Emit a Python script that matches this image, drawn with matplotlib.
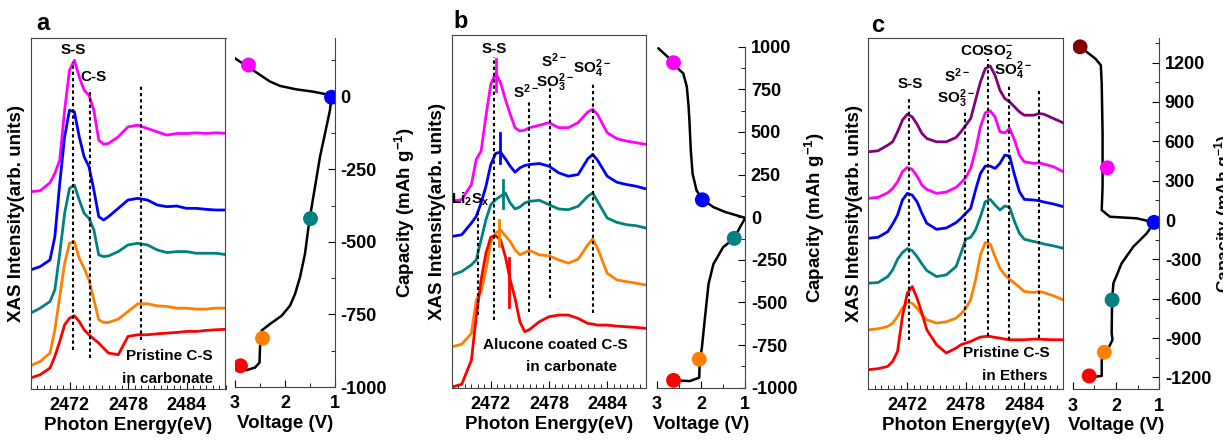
import matplotlib
matplotlib.use("Agg")
import matplotlib.pyplot as plt
from matplotlib.ticker import MultipleLocator

plt.rcParams['font.family'] = ['Liberation Sans', 'DejaVu Sans']
plt.rcParams['font.weight'] = 'bold'
plt.rcParams['axes.labelweight'] = 'bold'
plt.rcParams['axes.unicode_minus'] = False
plt.rcParams['mathtext.fontset'] = 'custom'
plt.rcParams['mathtext.rm'] = 'Liberation Sans:bold'
plt.rcParams['mathtext.it'] = 'Liberation Sans:bold'
plt.rcParams['mathtext.default'] = 'rm'

# ---- panel a : XAS spectra (offset intensities)
energy_a = [2468, 2469, 2470, 2470.5, 2471, 2471.5, 2472, 2472.5, 2473, 2473.5, 2474, 2474.5, 2475,
            2475.5, 2476, 2477, 2478, 2479, 2480, 2481, 2482, 2483, 2484, 2485, 2486, 2487, 2488.3]
a_magenta = [5.93, 5.96, 6.20, 6.48, 6.88, 8.38, 9.58, 9.88, 9.38, 8.98, 8.83, 8.38, 7.48, 7.36, 7.38,
             7.58, 7.88, 7.93, 7.83, 7.73, 7.63, 7.68, 7.68, 7.70, 7.68, 7.70, 7.68]
a_blue = [3.58, 3.68, 3.88, 4.58, 6.18, 7.58, 8.38, 8.33, 7.58, 6.98, 6.68, 5.98, 5.18, 5.08, 5.18,
          5.43, 5.68, 5.73, 5.68, 5.53, 5.48, 5.50, 5.43, 5.43, 5.40, 5.38, 5.38]
a_teal = [2.28, 2.43, 2.63, 2.98, 4.08, 5.28, 6.03, 6.13, 5.68, 5.28, 5.13, 4.78, 4.03, 3.98, 4.00,
          4.13, 4.33, 4.38, 4.33, 4.18, 4.10, 4.13, 4.13, 4.08, 4.08, 4.08, 4.03]
a_orange = [0.70, 0.83, 1.08, 1.78, 2.78, 3.78, 4.38, 4.43, 3.93, 3.63, 3.28, 2.68, 2.08, 2.00, 2.00,
            2.10, 2.33, 2.56, 2.56, 2.50, 2.48, 2.43, 2.43, 2.40, 2.40, 2.43, 2.43]
a_red = [0.33, 0.43, 0.63, 0.98, 1.43, 1.93, 2.13, 2.20, 2.03, 1.78, 1.63, 1.50, 1.38, 1.23, 1.08,
         1.03, 1.58, 1.63, 1.63, 1.66, 1.68, 1.70, 1.73, 1.73, 1.76, 1.78, 1.80]
a_lines_E = [2472.35, 2474.1, 2479.3]
a_lines_top = [9.83, 9.03, 9.18]
a_lines_bot = [1.18, 0.93, 1.48]

# ---- panel a : voltage profile
a_volt = [3.0, 2.5, 2.3, 2.1, 1.77, 1.43, 1.17, 1.07, 1.1, 1.2, 1.3, 1.4, 1.49, 1.53, 1.6, 1.7, 1.8,
          1.9, 2.07, 2.3, 2.47, 2.5, 2.51, 2.6, 2.77, 2.89]
a_cap = [132, 75, 52, 37, 25, 17, 8, 0, -46, -127, -207, -311, -403, -449, -541, -622, -680,
         -720, -755, -783, -806, -864, -916, -933, -942, -927]
a_dot_volt = [2.73, 1.07, 1.49, 2.45, 2.89]
a_dot_cap = [109, -2, -420, -832, -927]

# ---- panel b : XAS spectra
energy_b = [2468, 2469, 2470, 2470.5, 2471, 2471.5, 2472, 2472.5, 2473, 2473.5, 2474, 2474.5, 2475,
            2475.5, 2476, 2477, 2478, 2479, 2480, 2481, 2482, 2482.5, 2483, 2484, 2485, 2486, 2487, 2488]
b_magenta = [5.58, 5.63, 6.08, 6.83, 7.08, 8.13, 9.08, 9.41, 9.13, 8.63, 8.18, 7.78, 7.68, 7.71, 7.78,
             7.85, 7.93, 7.78, 7.78, 7.93, 8.25, 8.33, 8.18, 7.63, 7.45, 7.38, 7.33, 7.28]
b_blue = [4.53, 4.58, 4.93, 5.13, 5.53, 6.03, 6.68, 7.01, 7.05, 6.85, 6.63, 6.45, 6.58, 6.65, 6.68,
          6.71, 6.63, 6.43, 6.33, 6.38, 6.85, 6.98, 6.81, 6.33, 6.15, 6.08, 6.03, 5.95]
b_teal = [3.38, 3.48, 3.68, 3.83, 4.43, 5.03, 5.48, 5.63, 5.73, 5.83, 5.53, 5.35, 5.41, 5.53, 5.58,
          5.61, 5.48, 5.35, 5.33, 5.43, 5.73, 5.83, 5.58, 5.08, 4.95, 4.88, 4.85, 4.78]
b_orange = [1.23, 1.31, 1.63, 2.63, 2.88, 3.53, 4.38, 4.63, 4.73, 4.55, 4.38, 4.13, 3.98, 4.05, 4.11,
            3.98, 3.95, 3.83, 3.73, 3.85, 4.28, 4.45, 4.18, 3.43, 3.23, 3.18, 3.13, 3.08]
b_red = [0.03, 0.11, 0.83, 2.13, 3.23, 4.03, 4.51, 4.55, 4.43, 3.93, 3.23, 2.68, 1.98, 1.68, 1.75,
         1.98, 2.13, 2.18, 2.18, 2.08, 1.93, 1.91, 1.88, 1.88, 1.85, 1.83, 1.81, 1.78]
b_lines_E = [2470.7, 2472.34, 2475.9, 2478.1, 2482.5]
b_lines_top = [5.33, 9.88, 8.58, 9.13, 9.08]
b_lines_bot = [2.18, 2.03, 2.28, 2.68, 2.23]
# short peak markers on each curve
b_mark_E = [2472.55, 2472.9, 2473.3, 2472.82, 2473.89]
b_mark_top = [9.83, 7.63, 6.23, 5.03, 3.88]
b_mark_bot = [8.88, 6.73, 5.38, 4.23, 2.43]

# ---- panel b : voltage profile
b_volt = [2.96, 2.75, 2.55, 2.40, 2.32, 2.28, 2.26, 2.23, 2.19, 2.10, 1.97, 1.72, 1.45, 1.0,
          1.12, 1.25, 1.50, 1.72, 1.83, 1.91, 1.98, 2.03, 2.04, 2.25, 2.62]
b_cap = [990, 940, 880, 843, 765, 650, 560, 392, 255, 157, 105, 59, 30, -4,
         -59, -124, -176, -275, -392, -588, -765, -850, -941, -961, -957]
b_dot_volt = [2.62, 1.97, 1.25, 2.04, 2.62]
b_dot_cap = [906, 102, -124, -833, -957]

# ---- panel c : XAS spectra
energy_c = [2468, 2469, 2470, 2470.5, 2471, 2471.5, 2472, 2472.5, 2473, 2473.5, 2474, 2475, 2476,
            2477, 2477.5, 2478, 2478.5, 2479, 2479.5, 2480, 2480.5, 2481, 2481.5, 2482, 2482.5,
            2483, 2483.5, 2484, 2485, 2485.5, 2486, 2487, 2488]
c_purple = [7.13, 7.16, 7.33, 7.43, 7.73, 8.08, 8.26, 8.18, 7.96, 7.68, 7.53, 7.43, 7.43, 7.56, 7.73,
            7.93, 8.13, 8.68, 9.23, 9.63, 9.71, 9.43, 8.98, 8.73, 8.63, 8.48, 8.33, 8.23, 8.23,
            8.28, 8.26, 8.13, 8.00]
c_magenta = [5.73, 5.76, 5.90, 6.03, 6.23, 6.53, 6.66, 6.60, 6.40, 6.13, 6.00, 5.88, 5.92, 6.06, 6.20,
             6.36, 6.63, 7.18, 7.88, 8.30, 8.36, 8.18, 7.73, 7.70, 7.83, 7.48, 7.03, 6.83, 6.78,
             6.80, 6.76, 6.68, 6.53]
c_blue = [4.53, 4.56, 4.73, 4.96, 5.23, 5.68, 5.88, 5.83, 5.63, 5.28, 4.98, 4.80, 4.84, 5.00, 5.13,
          5.28, 5.43, 5.98, 6.48, 6.70, 6.70, 6.63, 6.78, 7.03, 7.00, 6.43, 5.93, 5.70, 5.68,
          5.66, 5.62, 5.56, 5.48]
c_teal = [3.18, 3.20, 3.38, 3.58, 3.90, 4.10, 4.22, 4.16, 3.98, 3.76, 3.56, 3.38, 3.43, 3.68, 4.08,
          4.50, 4.56, 4.78, 5.18, 5.63, 5.70, 5.53, 5.38, 5.50, 5.46, 5.03, 4.68, 4.50, 4.43,
          4.40, 4.36, 4.30, 4.23]
c_orange = [1.78, 1.81, 1.88, 1.98, 2.18, 2.43, 2.60, 2.58, 2.43, 2.23, 2.08, 1.98, 2.02, 2.13, 2.26,
            2.43, 2.68, 3.28, 4.03, 4.40, 4.36, 3.98, 3.63, 3.43, 3.30, 3.18, 3.06, 2.93, 2.90,
            2.93, 2.90, 2.80, 2.68]
c_red = [0.58, 0.61, 0.68, 0.83, 1.13, 2.18, 2.88, 3.08, 2.73, 2.28, 1.78, 1.33, 1.08, 1.23, 1.33,
         1.38, 1.43, 1.50, 1.56, 1.58, 1.58, 1.55, 1.53, 1.50, 1.48, 1.48, 1.48, 1.48, 1.50,
         1.50, 1.49, 1.48, 1.48]
c_lines_E = [2472.17, 2477.9, 2480.3, 2482.4, 2485.5]
c_lines_top = [8.73, 8.38, 9.93, 9.18, 9.03]
c_lines_bot = [1.48, 1.43, 1.58, 1.48, 1.53]

# ---- panel c : voltage profile
c_volt = [2.83, 2.68, 2.48, 2.35, 2.33, 2.31, 2.31, 2.33, 2.14, 1.52, 1.12,
          1.29, 1.60, 1.87, 2.06, 2.09, 2.10, 2.08, 2.20, 2.33, 2.33, 2.45, 2.62]
c_cap = [1320, 1282, 1231, 1180, 1041, 660, 254, 76, 25, 13, -18,
         -102, -203, -330, -482, -609, -863, -914, -990, -1066, -1188, -1193, -1188]
c_dot_volt = [2.83, 2.20, 1.12, 2.09, 2.27, 2.62]
c_dot_cap = [1320, 398, -18, -609, -1008, -1188]

MAG, BLU, TEA, ORA, RED = '#FF00FF', '#0000FF', '#008080', '#FF8000', '#FF0000'
PUR, DRD = '#800080', '#800000'
SPINE = '#444444'
NOTE = 11

W, H = 1223, 440
fig = plt.figure(figsize=(W / 100, H / 100), dpi=100)


def rect(l, t, r, b):
    return [l / W, 1 - b / H, (r - l) / W, (b - t) / H]


def spectra_axes(box, energy, curves, colors):
    ax = fig.add_axes(rect(*box))
    for y, c in zip(curves, colors):
        ax.plot(energy, y, color=c, lw=2.0, solid_joinstyle='round')
    ax.set_xlim(2468, 2488)
    ax.set_ylim(0, 10.55)
    ax.xaxis.set_major_locator(MultipleLocator(6))
    ax.xaxis.set_minor_locator(MultipleLocator(2 / 3))
    ax.set_yticks([])
    ax.tick_params(axis='x', which='both', direction='in', labelsize=13, pad=6, colors='black')
    ax.tick_params(axis='x', which='major', length=5)
    ax.tick_params(axis='x', which='minor', length=3)
    for s in ax.spines.values():
        s.set_color(SPINE)
    ax.set_xlabel('Photon Energy(eV)', fontsize=13.5, labelpad=2)
    ax.set_ylabel('XAS Intensity(arb. units)', fontsize=13.5, labelpad=4)
    return ax


def dashes(ax, xs, tops, bots):
    for x, t, b in zip(xs, tops, bots):
        ax.plot([x, x], [b, t], color='black', lw=1.5, ls=(0, (1.6, 1.4)))


def volt_axes(box, volt, cap, dv, dc, dcolors, ylim, major, minor):
    ax = fig.add_axes(rect(*box))
    ax.plot(volt, cap, color='black', lw=1.8, solid_joinstyle='round')
    ax.scatter(dv, dc, s=115, c=dcolors, zorder=3, linewidths=0)
    ax.set_xlim(3, 1)
    ax.set_ylim(*ylim)
    ax.spines['top'].set_visible(False)
    ax.spines['left'].set_visible(False)
    ax.spines['right'].set_color(SPINE)
    ax.spines['bottom'].set_color(SPINE)
    ax.yaxis.tick_right()
    ax.yaxis.set_label_position('right')
    ax.xaxis.set_major_locator(MultipleLocator(1))
    ax.xaxis.set_minor_locator(MultipleLocator(0.5))
    ax.yaxis.set_major_locator(MultipleLocator(major))
    ax.yaxis.set_minor_locator(MultipleLocator(minor))
    ax.tick_params(which='both', direction='in', labelsize=13)
    ax.tick_params(which='major', length=5)
    ax.tick_params(which='minor', length=3)
    ax.tick_params(axis='x', pad=6)
    ax.tick_params(axis='y', pad=4)
    ax.set_xlabel('Voltage (V)', fontsize=13.5, labelpad=2)
    ax.set_ylabel('Capacity (mAh g$^{-1}$)', fontsize=13.5, labelpad=4)
    return ax


# panel a
axa = spectra_axes((30.5, 38, 225.5, 389), energy_a, [a_magenta, a_blue, a_teal, a_orange, a_red],
                   [MAG, BLU, TEA, ORA, RED])
dashes(axa, a_lines_E, a_lines_top, a_lines_bot)
axa.text(2472.4, 10.18, 'S-S', ha='center', va='center', fontsize=NOTE)
axa.text(2474.5, 9.38, 'C-S', ha='center', va='center', fontsize=NOTE)
axa.text(2482.2, 1.0, 'Pristine C-S', ha='center', va='center', fontsize=NOTE)
axa.text(2482.0, 0.30, 'in carbonate', ha='center', va='center', fontsize=NOTE)
fig.text(43 / W, 1 - 24 / H, 'a', fontsize=17, ha='center', va='center')
volt_axes((235, 38, 335, 387), a_volt, a_cap, a_dot_volt, a_dot_cap, [MAG, BLU, TEA, ORA, RED],
          (-1000, 202), 250, 125)

# panel b
axb = spectra_axes((452, 35, 646, 388), energy_b, [b_magenta, b_blue, b_teal, b_orange, b_red],
                   [MAG, BLU, TEA, ORA, RED])
dashes(axb, b_lines_E, b_lines_top, b_lines_bot)
for x, t, b, c in zip(b_mark_E, b_mark_top, b_mark_bot, [MAG, BLU, TEA, ORA, RED]):
    axb.plot([x, x], [b, t], color=c, lw=2.0)
axb.text(2472.4, 10.13, 'S-S', ha='center', va='center', fontsize=NOTE)
axb.text(2469.9, 5.63, 'Li$_2$S$_x$', ha='center', va='center', fontsize=NOTE)
axb.text(2475.6, 8.85, 'S$^{2-}$', ha='center', va='center', fontsize=NOTE)
axb.text(2478.5, 9.78, 'S$^{2-}$', ha='center', va='center', fontsize=NOTE)
axb.text(2478.6, 9.13, 'SO$_3^{2-}$', ha='center', va='center', fontsize=NOTE)
axb.text(2482.4, 9.53, 'SO$_4^{2-}$', ha='center', va='center', fontsize=NOTE)
axb.text(2478.6, 1.28, 'Alucone coated C-S', ha='center', va='center', fontsize=NOTE)
axb.text(2480.3, 0.63, 'in carbonate', ha='center', va='center', fontsize=NOTE)
fig.text(461 / W, 1 - 22 / H, 'b', fontsize=17, ha='center', va='center')
volt_axes((656.7, 46.7, 745.3, 387.7), b_volt, b_cap, b_dot_volt, b_dot_cap,
          [MAG, BLU, TEA, ORA, RED], (-1000, 1000), 250, 125)

# panel c
axc = spectra_axes((868.3, 38, 1063.3, 389), energy_c,
                   [c_purple, c_magenta, c_blue, c_teal, c_orange, c_red],
                   [PUR, MAG, BLU, TEA, ORA, RED])
dashes(axc, c_lines_E, c_lines_top, c_lines_bot)
axc.text(2472.3, 9.18, 'S-S', ha='center', va='center', fontsize=NOTE)
axc.text(2477.1, 9.43, 'S$^{2-}$', ha='center', va='center', fontsize=NOTE)
axc.text(2477.0, 8.73, 'SO$_3^{2-}$', ha='center', va='center', fontsize=NOTE)
axc.text(2480.1, 10.13, 'COSO$_2^{-}$', ha='center', va='center', fontsize=NOTE)
axc.text(2482.8, 9.58, 'SO$_4^{2-}$', ha='center', va='center', fontsize=NOTE)
axc.text(2482.2, 1.08, 'Pristine C-S', ha='center', va='center', fontsize=NOTE)
axc.text(2483.0, 0.38, 'in Ethers', ha='center', va='center', fontsize=NOTE)
fig.text(878 / W, 1 - 26 / H, 'c', fontsize=17, ha='center', va='center')
axv = volt_axes((1072.7, 38.3, 1159.3, 389.3), c_volt, c_cap, c_dot_volt, c_dot_cap,
                [DRD, MAG, BLU, TEA, ORA, RED], (-1290, 1385), 300, 150)
# squeeze this label into the narrow strip at the right edge of the figure
axv.yaxis.label.set_fontsize(12.5)
axv.yaxis.set_label_coords((1212 - 1072.7) / 86.6, 0.5)

fig.savefig('out.png', dpi=100)
